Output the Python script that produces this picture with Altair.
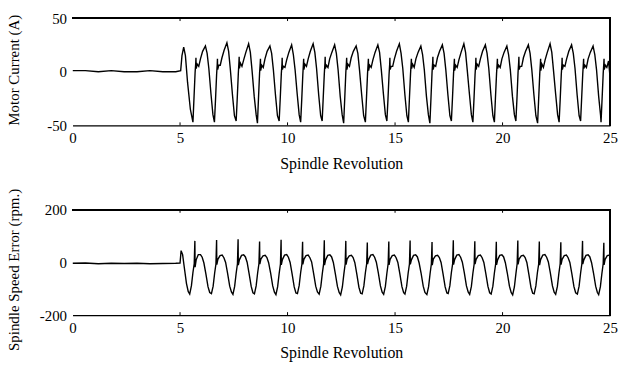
import altair as alt
import pandas as pd

# ---------------- data ----------------
X_TICKS = [0, 5, 10, 15, 20, 25]
TOP_Y_TICKS = [-50, 0, 50]
BOT_Y_TICKS = [-200, 0, 200]

# Motor current (A): quiet part, then start-up, then one cycle per revolution
TOP_PRE_X = [0.0, 0.6, 1.2, 1.8, 2.4, 3.0, 3.6, 4.2, 4.8, 5.03, 5.09, 5.17, 5.25, 5.35, 5.48]
TOP_PRE_Y = [1, 1, 0, 1, 0, 0, 1, 0, 0, 1, 15, 23, 15, -10, -35]
TOP_PHASES = [0.00, 0.05, 0.10, 0.13, 0.14, 0.15, 0.20, 0.27, 0.35, 0.45, 0.58, 0.66, 0.74, 0.84, 0.93]
TOP_TROUGHS = [5.60, 6.60, 7.61, 8.60, 9.61, 10.61, 11.61, 12.61, 13.62, 14.62,
               15.62, 16.62, 17.62, 18.62, 19.62, 20.62, 21.63, 22.63, 23.63, 24.58]
TOP_CYCLES = [
    [-47, -24, -1, 8, 13, 3, 7, 5, 12, 19, 24, 17, 3, -21, -40],
    [-47, -26, -3, 7, 12, 2, 6, 6, 13, 20, 27, 19, 2, -22, -41],
    [-46, -25, -2, 9, 14, 3, 8, 5, 11, 18, 26, 18, 1, -23, -40],
    [-48, -24, -1, 8, 12, 1, 6, 4, 12, 19, 24, 17, 2, -22, -41],
    [-46, -25, -2, 7, 13, 2, 5, 4, 11, 18, 25, 16, 2, -21, -40],
    [-47, -26, -3, 8, 12, 2, 7, 5, 12, 19, 26, 18, 3, -22, -41],
    [-46, -24, -2, 8, 14, 3, 6, 4, 12, 18, 25, 17, 2, -23, -40],
    [-48, -25, -1, 9, 13, 2, 7, 5, 13, 19, 24, 17, 1, -22, -41],
    [-47, -25, -2, 8, 12, 1, 6, 4, 11, 18, 25, 18, 2, -21, -40],
    [-46, -26, -3, 7, 13, 2, 5, 5, 12, 19, 26, 17, 3, -22, -41],
    [-47, -24, -2, 8, 12, 3, 7, 4, 12, 18, 24, 16, 2, -23, -40],
    [-48, -25, -1, 9, 14, 2, 6, 5, 13, 19, 25, 17, 2, -22, -41],
    [-46, -25, -2, 8, 12, 1, 6, 4, 11, 18, 26, 18, 1, -21, -40],
    [-47, -26, -3, 7, 13, 2, 7, 5, 12, 19, 25, 17, 3, -22, -41],
    [-47, -24, -2, 8, 12, 3, 6, 4, 12, 18, 24, 16, 2, -23, -40],
    [-46, -25, -1, 9, 14, 2, 5, 5, 13, 19, 25, 17, 2, -22, -41],
    [-48, -25, -2, 8, 12, 1, 7, 4, 11, 18, 26, 18, 1, -21, -40],
    [-47, -26, -3, 7, 13, 2, 6, 5, 12, 19, 25, 17, 3, -22, -41],
    [-46, -24, -2, 8, 12, 3, 6, 4, 12, 18, 24, 16, 2, -23, -41],
    [-47, -25, -2, 8, 12, 2, 6, 4, 10],
]
TOP_END_X = [25.0]
TOP_END_Y = [-5]

# Spindle speed error (rpm.)
BOT_PRE_X = [0.0, 0.6, 1.2, 1.8, 2.4, 3.0, 3.6, 4.2, 4.8, 5.0, 5.05, 5.12, 5.2, 5.3, 5.38]
BOT_PRE_Y = [-3, -2, -5, -3, -4, -3, -5, -4, -3, -2, 45, 30, -20, -80, -110]
BOT_PHASES = [0.00, 0.08, 0.15, 0.21, 0.24, 0.25, 0.30, 0.40, 0.50, 0.58, 0.66, 0.75, 0.85, 0.93]
BOT_TROUGHS = [5.45, 6.46, 7.46, 8.46, 9.46, 10.46, 11.47, 12.47, 13.47, 14.47,
               15.46, 16.48, 17.47, 18.47, 19.47, 20.47, 21.47, 22.47, 23.48, 24.47]
BOT_CYCLES = [
    [-120, -88, -38, -4, 82, -18, 10, 30, 30, 20, -2, -42, -92, -114],
    [-118, -90, -40, -6, 85, -8, 12, 26, 28, 18, 0, -40, -90, -112],
    [-121, -91, -41, -5, 88, -10, 10, 27, 29, 21, 1, -41, -91, -115],
    [-119, -89, -39, -4, 80, -6, 13, 25, 27, 19, -1, -39, -89, -113],
    [-122, -92, -42, -6, 86, -9, 11, 28, 30, 20, 0, -42, -93, -116],
    [-118, -88, -38, -5, 79, -7, 12, 26, 28, 18, 2, -40, -90, -112],
    [-120, -90, -40, -4, 84, -10, 10, 27, 29, 21, 0, -41, -91, -114],
    [-123, -93, -43, -6, 82, -8, 13, 25, 27, 19, -1, -43, -94, -117],
    [-119, -89, -39, -5, 76, -6, 11, 28, 30, 20, 1, -39, -89, -113],
    [-121, -91, -41, -4, 80, -9, 12, 26, 28, 18, 0, -41, -92, -115],
    [-120, -90, -40, -6, 83, -7, 10, 27, 29, 21, -2, -40, -90, -114],
    [-122, -92, -42, -5, 78, -10, 13, 25, 27, 19, 0, -42, -93, -116],
    [-118, -88, -38, -4, 84, -8, 11, 28, 30, 20, 1, -39, -89, -112],
    [-121, -91, -41, -6, 81, -6, 12, 26, 28, 18, 0, -41, -91, -115],
    [-120, -90, -40, -5, 79, -9, 10, 27, 29, 21, -1, -40, -90, -114],
    [-123, -93, -43, -4, 83, -7, 13, 25, 27, 19, 0, -43, -94, -117],
    [-119, -89, -39, -6, 80, -10, 11, 28, 30, 20, 2, -39, -89, -113],
    [-121, -91, -41, -5, 77, -8, 12, 26, 28, 18, 0, -41, -92, -115],
    [-120, -90, -40, -4, 82, -6, 10, 27, 29, 21, -1, -40, -90, -114],
    [-122, -92, -42, -5, 75, -9, 12, 26, 28],
]
BOT_END_X = [25.0]
BOT_END_Y = [15]


def build(pre_x, pre_y, troughs, phases, cycles, end_x, end_y):
    xs, ys = list(pre_x), list(pre_y)
    for t, row in zip(troughs, cycles):
        for p, v in zip(phases, row):
            xs.append(round(t + p, 3))
            ys.append(v)
    xs += end_x
    ys += end_y
    return pd.DataFrame({"x": xs, "y": ys, "i": range(len(xs))})


top_df = build(TOP_PRE_X, TOP_PRE_Y, TOP_TROUGHS, TOP_PHASES, TOP_CYCLES, TOP_END_X, TOP_END_Y)
bot_df = build(BOT_PRE_X, BOT_PRE_Y, BOT_TROUGHS, BOT_PHASES, BOT_CYCLES, BOT_END_X, BOT_END_Y)
tick_df = pd.DataFrame({"t": X_TICKS[1:-1]})

W = 541
FONT = "Liberation Serif, Times New Roman, serif"


def panel(df, ydom, yticks, ytitle, h, title_y, x_title_pad):
    xscale = alt.Scale(domain=[0, 25], nice=False, zero=False)
    yscale = alt.Scale(domain=ydom, nice=False, zero=False)
    xenc = alt.X(
        "x:Q",
        scale=xscale,
        axis=alt.Axis(values=X_TICKS, title="Spindle Revolution", ticks=False,
                      domain=True, domainColor="black", domainWidth=1.2,
                      labelPadding=5, titlePadding=x_title_pad, titleFontSize=16,
                      grid=False, labelFlush=False),
    )
    yenc = alt.Y(
        "y:Q",
        scale=yscale,
        axis=alt.Axis(values=yticks, title=ytitle, ticks=False, domain=False,
                      grid=False, labelPadding=6, labelExpr="'' + datum.value",
                      titleX=-59, titleY=title_y, titleBaseline="middle",
                      titleAlign="center", titleFontSize=15),
    )
    line = alt.Chart(df).mark_line(color="black", strokeWidth=1.4, clip=True).encode(
        x=xenc, y=yenc, order="i:Q"
    )
    top_rule = alt.Chart(df).mark_rule(color="black", strokeWidth=1.2).encode(
        x=alt.value(0), x2=alt.value(W), y=alt.value(0)
    )
    right_rule = alt.Chart(df).mark_rule(color="black", strokeWidth=1.2).encode(
        x=alt.value(W), y=alt.value(0), y2=alt.value(h)
    )
    ticks_bottom = alt.Chart(tick_df).mark_rule(color="black", strokeWidth=1).encode(
        x=alt.X("t:Q", scale=xscale), y=alt.value(h), y2=alt.value(h - 3)
    )
    ticks_top = alt.Chart(tick_df).mark_rule(color="black", strokeWidth=1).encode(
        x=alt.X("t:Q", scale=xscale), y=alt.value(0), y2=alt.value(3)
    )
    return alt.layer(line, top_rule, right_rule, ticks_bottom, ticks_top).properties(
        width=W, height=h
    )


top = panel(top_df, [-50, 50], TOP_Y_TICKS, "Motor Current (A)", 108, 52, 10)
bot = panel(bot_df, [-200, 200], BOT_Y_TICKS, "Spindle Speed Error (rpm.)", 106, 60, 10)

chart = (
    alt.vconcat(top, bot, spacing=85, bounds="flush")
    .properties(padding={"left": 7, "top": 10, "right": 2, "bottom": 0}, background="white")
    .configure_view(stroke=None)
    .configure_axis(labelFont=FONT, titleFont=FONT, labelFontSize=15, titleFontSize=16,
                    titleFontWeight="normal", labelColor="black", titleColor="black")
)

chart.save("out.html", embed_options={"renderer": "svg", "actions": False})
